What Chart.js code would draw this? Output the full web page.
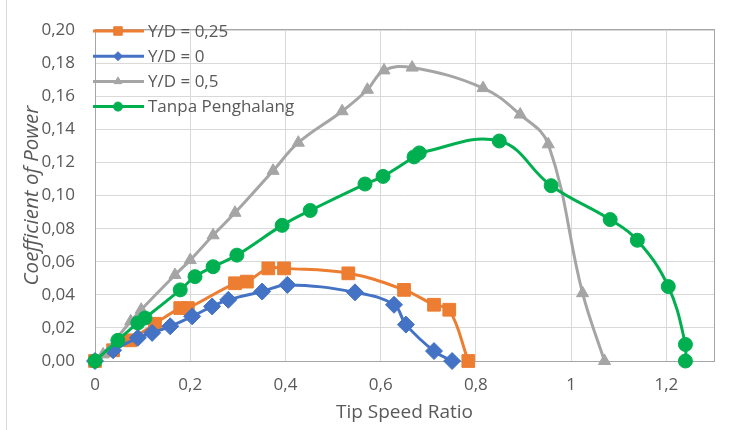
<!DOCTYPE html>
<html>
<head>
<meta charset="utf-8">
<title>Coefficient of Power</title>
<script src="https://cdn.jsdelivr.net/npm/chart.js@4.4.1/dist/chart.umd.min.js"></script>
<style>
    html, body { margin: 0; padding: 0; background: #fff; }
    #wrap { width: 734px; height: 430px; }
</style>
</head>
<body>
<div id="wrap"><canvas id="cpChart" width="734" height="430"></canvas></div>
<script>
// Tip speed ratio and power coefficient per obstacle position
const yd025Tsr = [0, 0.038, 0.074, 0.126, 0.179, 0.195, 0.294, 0.319, 0.364, 0.397, 0.532, 0.649, 0.712, 0.744, 0.784];
const yd025Cp  = [0, 0.0065, 0.0125, 0.0225, 0.032, 0.032, 0.047, 0.048, 0.056, 0.056, 0.053, 0.043, 0.034, 0.031, 0];

const yd0Tsr = [0, 0.038, 0.09, 0.12, 0.158, 0.204, 0.246, 0.28, 0.351, 0.404, 0.546, 0.628, 0.653, 0.712, 0.75];
const yd0Cp  = [0, 0.0065, 0.014, 0.017, 0.021, 0.027, 0.033, 0.037, 0.042, 0.046, 0.0415, 0.034, 0.022, 0.006, 0];

const yd05Tsr = [0, 0.017, 0.075, 0.097, 0.168, 0.2, 0.248, 0.294, 0.374, 0.427, 0.519, 0.572, 0.607, 0.666, 0.815, 0.893, 0.952, 1.024, 1.07];
const yd05Cp  = [0, 0.004, 0.024, 0.031, 0.052, 0.061, 0.076, 0.0896, 0.115, 0.132, 0.151, 0.164, 0.1757, 0.1774, 0.165, 0.149, 0.131, 0.041, 0];

const freeTsr = [0, 0.048, 0.09, 0.105, 0.179, 0.21, 0.248, 0.298, 0.393, 0.452, 0.567, 0.605, 0.67, 0.681, 0.849, 0.958, 1.082, 1.139, 1.204, 1.24, 1.24];
const freeCp  = [0, 0.0125, 0.023, 0.026, 0.043, 0.051, 0.057, 0.064, 0.082, 0.091, 0.107, 0.1116, 0.1234, 0.1258, 0.133, 0.106, 0.0855, 0.073, 0.045, 0.010, 0];

const seriesLabels = ['Y/D = 0,25', 'Y/D = 0', 'Y/D = 0,5', 'Tanpa Penghalang'];

const xAxisTitle = 'Tip Speed Ratio';
const yAxisTitle = 'Coefficient of Power';

const textColor = '#595959';
const fontFamily = "'Open Sans', 'Noto Sans', sans-serif";

function toPoints(xs, ys) {
    return xs.map((x, i) => ({ x: x, y: ys[i] }));
}

function makeSeries(label, xs, ys, color, style, radius, order) {
    return {
        label: label,
        data: toPoints(xs, ys),
        borderColor: color,
        backgroundColor: color,
        borderWidth: 3,
        pointStyle: style,
        pointRadius: radius,
        pointHoverRadius: radius,
        pointBorderWidth: 1,
        tension: 0.4,
        clip: false,
        order: order,
        legendRadius: style === 'rect' ? 6 : 4.5
    };
}

// Legend drawn inside the plot area, line + marker per series
const insideLegend = {
    id: 'insideLegend',
    afterDraw(chart) {
        const ctx = chart.ctx;
        const left = 93, top = 31, rowGap = 25.2;
        ctx.save();
        chart.data.datasets.forEach((ds, i) => {
            const y = top + i * rowGap;
            ctx.strokeStyle = ds.borderColor;
            ctx.lineWidth = 3;
            ctx.beginPath();
            ctx.moveTo(left, y);
            ctx.lineTo(left + 51, y);
            ctx.stroke();
            ctx.fillStyle = ds.backgroundColor;
            ctx.strokeStyle = ds.borderColor;
            ctx.lineWidth = 1;
            Chart.helpers.drawPoint(ctx, {
                pointStyle: ds.pointStyle,
                radius: ds.legendRadius,
                rotation: 0,
                borderWidth: 1
            }, left + 25, y);
            ctx.fillStyle = textColor;
            ctx.font = '17px ' + fontFamily;
            ctx.textBaseline = 'middle';
            ctx.textAlign = 'left';
            ctx.fillText(ds.label, left + 55, y + 1);
        });
        ctx.restore();
    }
};

// Plot area frame and the chart's outer edge
const frame = {
    id: 'frame',
    beforeDatasetsDraw(chart) {
        const a = chart.chartArea;
        const ctx = chart.ctx;
        ctx.save();
        ctx.strokeStyle = '#a6a6a6';
        ctx.lineWidth = 1;
        ctx.strokeRect(Math.round(a.left) + 0.5, Math.round(a.top) - 0.5, Math.round(a.right - a.left), Math.round(a.bottom - a.top) + 1);
        ctx.strokeStyle = '#d9d9d9';
        ctx.beginPath();
        ctx.moveTo(6.5, 0);
        ctx.lineTo(6.5, 430);
        ctx.stroke();
        ctx.restore();
    }
};

new Chart(document.getElementById('cpChart'), {
    type: 'line',
    data: {
        datasets: [
            makeSeries(seriesLabels[0], yd025Tsr, yd025Cp, '#ED7D31', 'rect', 9, 3),
            makeSeries(seriesLabels[1], yd0Tsr, yd0Cp, '#4472C4', 'rectRot', 8.5, 2),
            makeSeries(seriesLabels[2], yd05Tsr, yd05Cp, '#A5A5A5', 'triangle', 7, 1),
            makeSeries(seriesLabels[3], freeTsr, freeCp, '#00B050', 'circle', 7, 0)
        ]
    },
    options: {
        responsive: false,
        animation: false,
        layout: { padding: { top: 24, right: 20, left: 0, bottom: 0 } },
        plugins: {
            legend: { display: false },
            tooltip: { enabled: false }
        },
        scales: {
            x: {
                type: 'linear',
                min: 0,
                max: 1.3,
                afterFit: s => { s.height = 69; },
                afterBuildTicks: s => { s.ticks = s.ticks.filter(t => t.value < 1.25); },
                grid: { color: '#d9d9d9', drawTicks: false },
                border: { display: false },
                ticks: {
                    stepSize: 0.2,
                    padding: 14,
                    color: textColor,
                    font: { family: fontFamily, size: 17 },
                    maxRotation: 0,
                    callback: v => (Math.round(v * 10) / 10).toString().replace('.', ',')
                },
                title: {
                    display: true,
                    text: xAxisTitle,
                    color: textColor,
                    font: { family: fontFamily, size: 19 },
                    padding: { top: 6, bottom: 6 }
                }
            },
            y: {
                min: 0,
                max: 0.2,
                afterFit: s => { s.width = 95; },
                grid: { color: '#d9d9d9', drawTicks: false },
                border: { display: false },
                ticks: {
                    stepSize: 0.02,
                    padding: 20,
                    color: textColor,
                    font: { family: fontFamily, size: 17 },
                    callback: v => v.toFixed(2).replace('.', ',')
                },
                title: {
                    display: true,
                    text: yAxisTitle,
                    color: textColor,
                    font: { family: fontFamily, size: 20.5, style: 'italic' },
                    padding: { top: 20, bottom: 20 }
                }
            }
        }
    },
    plugins: [frame, insideLegend]
});
</script>
</body>
</html>
